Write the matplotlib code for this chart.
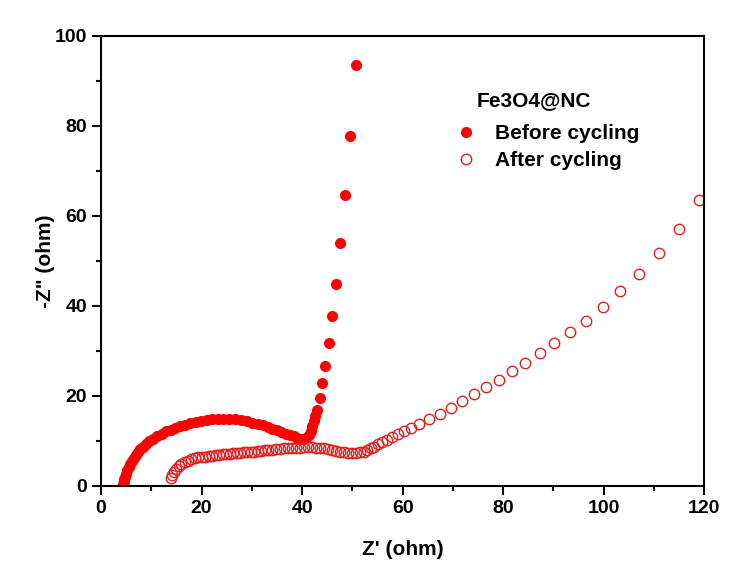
import matplotlib
matplotlib.use('Agg')
import matplotlib.pyplot as plt
from matplotlib.ticker import MultipleLocator

plt.rcParams['font.family'] = ['Liberation Sans', 'DejaVu Sans']
plt.rcParams['font.weight'] = 'bold'

# Before cycling (Z', -Z'')
before_x = [4.4, 4.5, 4.6, 4.8, 5.0, 5.2, 5.5, 5.8, 6.1, 6.5,
            6.9, 7.3, 7.8, 8.3, 8.9, 9.6, 10.4, 11.2, 12.1, 13.0,
            13.9, 14.8, 15.7, 16.7, 17.7, 18.8, 19.9, 21.0, 22.1, 23.2,
            24.3, 25.5, 26.7, 27.9, 29.0, 30.1, 31.2, 32.2, 33.2, 34.1,
            35.0, 35.9, 36.7, 37.5, 38.3, 39.0, 39.7, 40.3, 40.8, 41.3,
            41.7, 42.0, 42.3, 42.6, 43.0, 43.5, 44.0, 44.6, 45.3, 46.0,
            46.8, 47.6, 48.5, 49.6, 50.7]
before_y = [0.3, 0.8, 1.4, 2.0, 2.7, 3.4, 4.1, 4.8, 5.5, 6.2,
            6.9, 7.5, 8.1, 8.7, 9.3, 9.9, 10.5, 11.1, 11.6, 12.1,
            12.5, 12.9, 13.3, 13.6, 13.9, 14.2, 14.4, 14.6, 14.8, 14.9,
            14.9, 14.9, 14.8, 14.6, 14.3, 14.0, 13.7, 13.4, 13.1, 12.7,
            12.3, 12.0, 11.6, 11.3, 11.0, 10.7, 10.5, 10.4, 10.7, 11.3,
            12.2, 13.2, 14.3, 15.4, 16.9, 19.5, 22.8, 26.7, 31.7, 37.8,
            44.9, 53.9, 64.7, 77.8, 93.6]

# After cycling
after_x = [13.9, 14.2, 14.6, 15.0, 15.5, 16.0, 16.6, 17.2, 17.9, 18.6,
           19.3, 20.0, 20.7, 21.4, 22.1, 22.8, 23.5, 24.2, 24.9, 25.6,
           26.3, 27.0, 27.7, 28.4, 29.1, 29.8, 30.5, 31.2, 31.9, 32.6,
           33.3, 34.0, 34.8, 35.6, 36.4, 37.2, 38.0, 38.8, 39.6, 40.4,
           41.2, 42.0, 42.8, 43.6, 44.4, 45.2, 46.0, 46.8, 47.6, 48.4,
           49.2, 50.0, 50.8, 51.6, 52.3, 53.0, 53.7, 54.4, 55.2, 56.0,
           56.9, 57.9, 59.0, 60.2, 61.6, 63.2, 65.3, 67.5, 69.6, 71.8,
           74.2, 76.6, 79.1, 81.8, 84.4, 87.4, 90.2, 93.3, 96.5, 99.8,
           103.2, 107.0, 111.0, 115.0, 118.9]
after_y = [1.7, 2.4, 3.1, 3.7, 4.3, 4.8, 5.2, 5.6, 5.9, 6.1,
           6.3, 6.4, 6.5, 6.6, 6.7, 6.8, 6.9, 7.0, 7.0, 7.1,
           7.2, 7.3, 7.3, 7.4, 7.5, 7.6, 7.6, 7.7, 7.8, 7.9,
           8.0, 8.0, 8.1, 8.2, 8.3, 8.4, 8.4, 8.5, 8.5, 8.6,
           8.6, 8.6, 8.5, 8.4, 8.3, 8.1, 7.9, 7.7, 7.5, 7.4,
           7.3, 7.3, 7.3, 7.4, 7.6, 7.9, 8.3, 8.7, 9.2, 9.7,
           10.2, 10.8, 11.5, 12.2, 12.9, 13.8, 14.8, 16.0, 17.4, 18.8,
           20.3, 21.9, 23.6, 25.5, 27.4, 29.5, 31.7, 34.1, 36.7, 39.8,
           43.3, 47.1, 51.7, 57.1, 63.6]

fig = plt.figure(figsize=(7.38, 5.79), dpi=100)
ax = fig.add_axes([0.137, 0.161, 0.817, 0.777])

ax.plot(before_x, before_y, 'o', color='#ff0000', markersize=8,
        markeredgewidth=0, label='Before cycling')
ax.plot(after_x, after_y, 'o', markerfacecolor='none', markeredgecolor='#e02020',
        markersize=7.5, markeredgewidth=1.0, label='After cycling')

ax.set_xlim(0, 120)
ax.set_ylim(0, 100)
ax.xaxis.set_major_locator(MultipleLocator(20))
ax.xaxis.set_minor_locator(MultipleLocator(10))
ax.yaxis.set_major_locator(MultipleLocator(20))
ax.yaxis.set_minor_locator(MultipleLocator(10))
ax.tick_params(which='both', direction='out', width=1.5, labelsize=14, top=False, right=False)
ax.tick_params(which='major', length=6.5)
ax.tick_params(which='minor', length=3.5)
for s in ax.spines.values():
    s.set_linewidth(1.5)

ax.set_xlabel("Z' (ohm)", fontsize=15, fontweight='bold', labelpad=17)
ax.set_ylabel('-Z" (ohm)', fontsize=15, fontweight='bold', labelpad=0)

ax.text(0.623, 0.856, 'Fe3O4@NC', transform=ax.transAxes, fontsize=15,
        fontweight='bold', va='center')
leg = ax.legend(loc='upper left', bbox_to_anchor=(0.585, 0.804), frameon=False,
                fontsize=15, handletextpad=0.79, labelspacing=0.39, handlelength=1.2,
                borderpad=0, borderaxespad=0)

fig.savefig('out.png', dpi=100)
